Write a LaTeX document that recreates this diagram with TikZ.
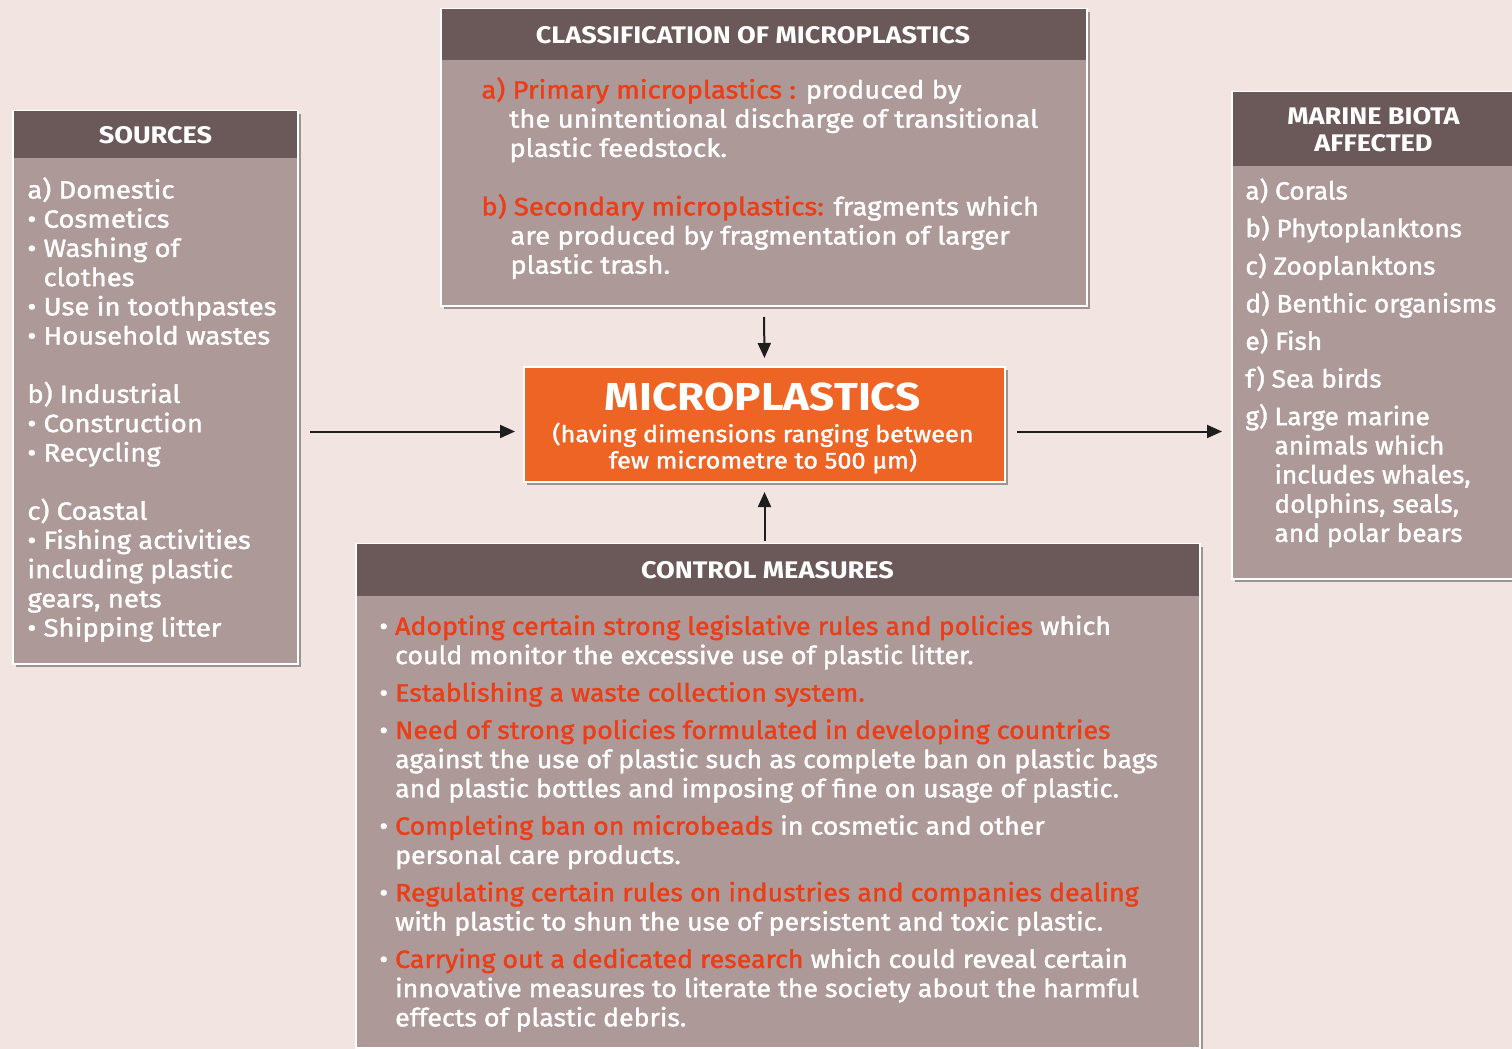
\documentclass[tikz,border=0pt]{standalone}
\usepackage{fontspec}
\setmainfont{Fira Sans}[FakeStretch=1.1, FakeBold=1.5]
\newfontfamily\biofont{Fira Sans}[FakeStretch=1.05, FakeBold=1.5]
\newfontfamily\ctrlfont{Fira Sans}[FakeStretch=1.07, FakeBold=1.5]
\newfontfamily\headfont{Fira Sans}[FakeStretch=1.13]
\usetikzlibrary{positioning,shadows,arrows.meta}

\definecolor{bgpink}{HTML}{F2E4E1}
\definecolor{boxmauve}{HTML}{AD9998}
\definecolor{headbrown}{HTML}{6A5958}
\definecolor{mporange}{HTML}{EE6424}
\definecolor{txtred}{HTML}{EC3D17}
\definecolor{arrowblack}{HTML}{1E1E1E}

\newcommand{\blt}{\textbullet\ }
\newcommand{\hl}[1]{\textcolor{txtred}{#1}}

\tikzset{
  panel/.style={fill=boxmauve, draw=white, line width=1pt, anchor=north west,
    inner sep=0pt, drop shadow={shadow xshift=1.3pt, shadow yshift=-1.3pt,
    opacity=0.35, fill=black}},
  headbar/.style={fill=headbrown, anchor=north, inner sep=0pt, text=white,
    font=\headfont\bfseries\fontsize{12}{13.5}\selectfont, align=center},
  bodytext/.style={anchor=north west, inner sep=0pt, text=white, align=left,
    font=\fontsize{12.5}{14.6}\selectfont},
  flow/.style={draw=arrowblack, line width=1pt,
    -{Triangle[length=7.5pt, width=6.5pt]}},
}

\begin{document}
\begin{tikzpicture}[x=0.5pt, y=-0.5pt]
  \fill[bgpink] (0,0) rectangle (1512,1049);
  \useasboundingbox (0,0) rectangle (1512,1049);

  % panels
  \node[panel, minimum width=142.5pt, minimum height=276.5pt] (src) at (12,110) {};
  \node[panel, minimum width=323pt, minimum height=148.5pt] (cls) at (440,8) {};
  \node[panel, minimum width=141.5pt, minimum height=243.5pt] (bio) at (1231,91) {};
  \node[panel, minimum width=422pt, minimum height=252pt] (ctrl) at (355,543) {};
  \node[fill=mporange, draw=white, line width=1pt, inner sep=0pt,
    minimum width=240.5pt, minimum height=57.5pt, anchor=north west,
    drop shadow={shadow xshift=1.3pt, shadow yshift=-1.3pt, opacity=0.35, fill=black}]
    (micro) at (523,366) {};

  % header bars
  \node[headbar, minimum width=141.5pt, minimum height=23.5pt] (srchead)
    at ([yshift=-0.5pt]src.north) {SOURCES};
  \node[headbar, minimum width=322pt, minimum height=25.5pt] (clshead)
    at ([yshift=-0.5pt]cls.north) {CLASSIFICATION OF MICROPLASTICS\hspace*{11pt}};
  \node[headbar, minimum width=140.5pt, minimum height=37pt] (biohead)
    at ([yshift=-0.5pt]bio.north) {MARINE BIOTA\\AFFECTED};
  \node[headbar, minimum width=421pt, minimum height=26pt] (ctrlhead)
    at ([yshift=-0.5pt]ctrl.north) {CONTROL MEASURES\hspace*{10.5pt}};

  % texts
  \node[bodytext] (srctext) at (27,177) {a) Domestic\\
    \blt Cosmetics\\
    \blt Washing of\\
    \hphantom{\blt}clothes\\
    \blt Use in toothpastes\\
    \blt Household wastes\\[14.6pt]
    b) Industrial\\
    \blt Construction\\
    \blt Recycling\\[14.6pt]
    c) Coastal\\
    \blt Fishing activities\\
    including plastic\\
    gears, nets\\
    \blt Shipping litter};

  \node[bodytext] (clstext) at (481,77) {\hl{a) Primary microplastics :} produced by\\
    \hspace*{14pt}the unintentional discharge of transitional\\
    \hspace*{14pt}plastic feedstock.\\[14.6pt]
    \hl{b) Secondary microplastics:} fragments which\\
    \hspace*{14.5pt}are produced by fragmentation of larger\\
    \hspace*{14.5pt}plastic trash.};

  \node[bodytext, font=\biofont\fontsize{12.5}{14.6}\selectfont] (biotext) at (1245,178)
    {a) Corals\\[4.2pt]
    b) Phytoplanktons\\[4.2pt]
    c) Zooplanktons\\[4.2pt]
    d) Benthic organisms\\[4.2pt]
    e) Fish\\[4.2pt]
    f) Sea birds\\[4.2pt]
    g) Large marine\\
    \hphantom{g) }animals which\\
    \hphantom{g) }includes whales,\\
    \hphantom{g) }dolphins, seals,\\
    \hphantom{g) }and polar bears};

  \node[bodytext, font=\ctrlfont\fontsize{12.5}{14.6}\selectfont] (ctrltext) at (379,615)
    {\blt\hl{Adopting certain strong legislative rules and policies} which\\
    \hphantom{\blt}could monitor the excessive use of plastic litter.\\[4.1pt]
    \blt\hl{Establishing a waste collection system.}\\[4.1pt]
    \blt\hl{Need of strong policies formulated in developing countries}\\
    \hphantom{\blt}against the use of plastic such as complete ban on plastic bags\\
    \hphantom{\blt}and plastic bottles and imposing of fine on usage of plastic.\\[4.1pt]
    \blt\hl{Completing ban on microbeads} in cosmetic and other\\
    \hphantom{\blt}personal care products.\\[4.1pt]
    \blt\hl{Regulating certain rules on industries and companies dealing}\\
    \hphantom{\blt}with plastic to shun the use of persistent and toxic plastic.\\[4.1pt]
    \blt\hl{Carrying out a dedicated research} which could reveal certain\\
    \hphantom{\blt}innovative measures to literate the society about the harmful\\
    \hphantom{\blt}effects of plastic debris.};

  \node[text=white, inner sep=0pt, font=\headfont\bfseries\fontsize{19.5}{21}\selectfont]
    (microtitle) at (763,397) {MICROPLASTICS};
  \node[text=white, align=center, inner sep=0pt, font=\fontsize{11.5}{11}\selectfont]
    (microsub) at (763,448) {(having dimensions ranging between\\few micrometre to 500 µm)};

  % arrows
  \coordinate (inpoint) at ([yshift=-3.5pt]micro.west);
  \coordinate (outpoint) at ([yshift=-3.5pt]micro.east);
  \draw[flow, shorten <=5.5pt, shorten >=4pt] (src.east |- inpoint) -- (inpoint);
  \draw[flow, shorten <=5.5pt, shorten >=4.5pt] (outpoint) -- (bio.west |- outpoint);
  \draw[flow, shorten <=5pt, shorten >=4pt] (cls.south) -- (micro.north);
  \draw[flow, shorten <=1pt, shorten >=4.5pt] (ctrl.north -| micro.south) -- (micro.south);
\end{tikzpicture}
\end{document}
